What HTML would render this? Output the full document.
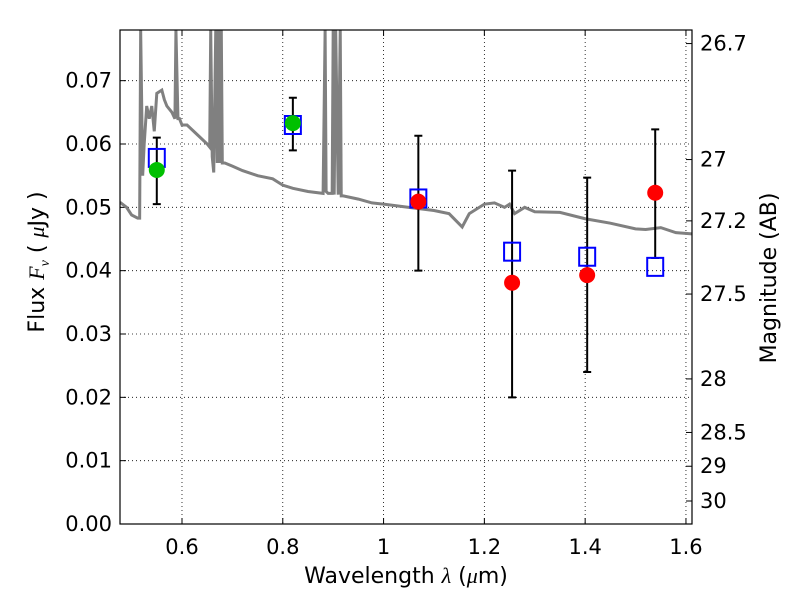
<!DOCTYPE html>
<html><head><meta charset="utf-8"><style>
html,body{margin:0;padding:0;background:#fff;}
text{font-family:"DejaVu Sans","Liberation Sans",sans-serif;}
</style></head><body>
<svg id="chart" width="800" height="600" xmlns="http://www.w3.org/2000/svg"></svg>
<script>
const specLam=[0.477,0.49,0.50,0.512,0.516,0.518,0.522,0.525,0.53,0.535,0.54,0.545,0.55,0.56,0.565,0.57,0.58,0.586,0.588,0.592,0.595,0.60,0.61,0.63,0.65,0.655,0.657,0.66,0.663,0.667,0.67,0.672,0.675,0.678,0.68,0.685,0.70,0.72,0.75,0.78,0.79,0.80,0.82,0.85,0.88,0.884,0.886,0.89,0.898,0.90,0.902,0.905,0.91,0.914,0.916,0.92,0.95,0.977,1.0,1.05,1.1,1.13,1.156,1.17,1.2,1.22,1.24,1.25,1.26,1.28,1.3,1.35,1.4,1.45,1.5,1.52,1.55,1.58,1.612];
const specFlux=[0.0508,0.0500,0.0488,0.0483,0.0483,0.078,0.055,0.060,0.066,0.064,0.066,0.062,0.068,0.0685,0.067,0.066,0.065,0.064,0.078,0.064,0.064,0.063,0.0630,0.0615,0.0600,0.0595,0.078,0.058,0.0555,0.078,0.057,0.078,0.057,0.078,0.057,0.057,0.0565,0.0558,0.0550,0.0545,0.054,0.0535,0.0530,0.0525,0.0522,0.078,0.0525,0.0522,0.0522,0.078,0.052,0.078,0.052,0.078,0.0518,0.0518,0.0513,0.0507,0.0505,0.0500,0.0495,0.0490,0.0469,0.0490,0.0505,0.0507,0.0500,0.0505,0.0490,0.0500,0.0493,0.0492,0.0482,0.0475,0.0466,0.0465,0.0468,0.0460,0.0458];
const ptLam=[0.55,0.82,1.069,1.255,1.404,1.539];
const ptFlux=[0.0559,0.0633,0.0509,0.0381,0.0393,0.0523];
const ptColor=["#00c000","#00c000","red","red","red","red"];
const errLo=[0.0505,0.059,0.040,0.020,0.024,0.042];
const errHi=[0.061,0.0673,0.0613,0.0558,0.0547,0.0623];
const modelFlux=[0.0578,0.0630,0.0514,0.0430,0.0422,0.0406];
const xTicks=[0.6,0.8,1.0,1.2,1.4,1.6];
const xTickLabels=["0.6","0.8","1","1.2","1.4","1.6"];
const yTicks=[0,0.01,0.02,0.03,0.04,0.05,0.06,0.07];
const magTicks=[26.7,27,27.2,27.5,28,28.5,29,30];
const L=120,R=692,T=30,B=524;
const xMin=0.477,xMax=1.612,yMin=0,yMax=0.078;
const X=v=>L+(v-xMin)/(xMax-xMin)*(R-L);
const Y=v=>B-(v-yMin)/(yMax-yMin)*(B-T);
const NS="http://www.w3.org/2000/svg";
const svg=document.getElementById('chart');
function mk(tag,attrs,parent){const e=document.createElementNS(NS,tag);for(const k in attrs)e.setAttribute(k,attrs[k]);(parent||svg).appendChild(e);return e;}
const defs=mk('defs',{});const cp=mk('clipPath',{id:'clip'},defs);mk('rect',{x:L,y:T,width:R-L,height:B-T},cp);
xTicks.forEach((t,i)=>{const g=mk('line',{x1:X(t),x2:X(t),y1:T,y2:B,stroke:'#000','stroke-width':0.8,'stroke-dasharray':'1,3'});

const tk=mk('line',{x1:X(t),x2:X(t),y1:B,y2:B-6,stroke:'#000'});
const tt=mk('line',{x1:X(t),x2:X(t),y1:T,y2:T+6,stroke:'#000'});
const lb=mk('text',{x:X(t),y:B+30,'text-anchor':'middle','font-size':21});lb.textContent=xTickLabels[i];
});
yTicks.forEach(t=>{const g=mk('line',{x1:L,x2:R,y1:Y(t),y2:Y(t),stroke:'#000','stroke-width':0.8,'stroke-dasharray':'1,3'});

const tk=mk('line',{x1:L,x2:L+6,y1:Y(t),y2:Y(t),stroke:'#000'});
const lb=mk('text',{x:L-8,y:Y(t)+7,'text-anchor':'end','font-size':21});lb.textContent=t.toFixed(2);
});
magTicks.forEach(m=>{const f=Math.pow(10,(23.9-m)/2.5);const y=Y(f);
const tk=mk('line',{x1:R,x2:R-6,y1:y,y2:y,stroke:'#000'});
const lb=mk('text',{x:R+8,y:y+7,'font-size':21});lb.textContent=String(m);
});
const sp=mk('polyline',{points:specLam.map((l,i)=>X(l)+','+Y(specFlux[i])).join(' '),fill:'none',stroke:'#808080','stroke-width':3,'clip-path':'url(#clip)'});

ptLam.forEach((l,i)=>{const x=X(l);
const eb=mk('path',{d:`M${x},${Y(errLo[i])}V${Y(errHi[i])}M${x-4},${Y(errLo[i])}h8M${x-4},${Y(errHi[i])}h8`,stroke:'#000','stroke-width':2,fill:'none'});

const bx=mk('rect',{x:x-8,y:Y(modelFlux[i])-9,width:16,height:18,fill:'none',stroke:'#0000ff','stroke-width':2});

const c=mk('circle',{cx:x,cy:Y(ptFlux[i]),r:8,fill:ptColor[i]});
});
const fr=mk('rect',{x:L,y:T,width:R-L,height:B-T,fill:'none',stroke:'#000','stroke-width':1.2});

const xt=mk('text',{x:406,y:583,'text-anchor':'middle','font-size':22});
xt.innerHTML='Wavelength  <tspan font-family="Liberation Serif" font-style="italic">λ</tspan> (<tspan font-family="Liberation Serif" font-style="italic">μ</tspan>m)';

const yt=mk('text',{x:0,y:0,'text-anchor':'middle','font-size':22,transform:'translate(44,262) rotate(-90)'});
yt.innerHTML='Flux  <tspan font-family="Liberation Serif" font-style="italic">F</tspan><tspan font-family="Liberation Serif" font-style="italic" font-size="14" dy="5">ν</tspan><tspan dy="-5">  ( </tspan><tspan font-family="Liberation Serif" font-style="italic">μ</tspan>Jy )';

const rt=mk('text',{x:0,y:0,'text-anchor':'middle','font-size':22,transform:'translate(776,278) rotate(-90)'});
rt.textContent='Magnitude (AB)';

</script>
</body></html>
